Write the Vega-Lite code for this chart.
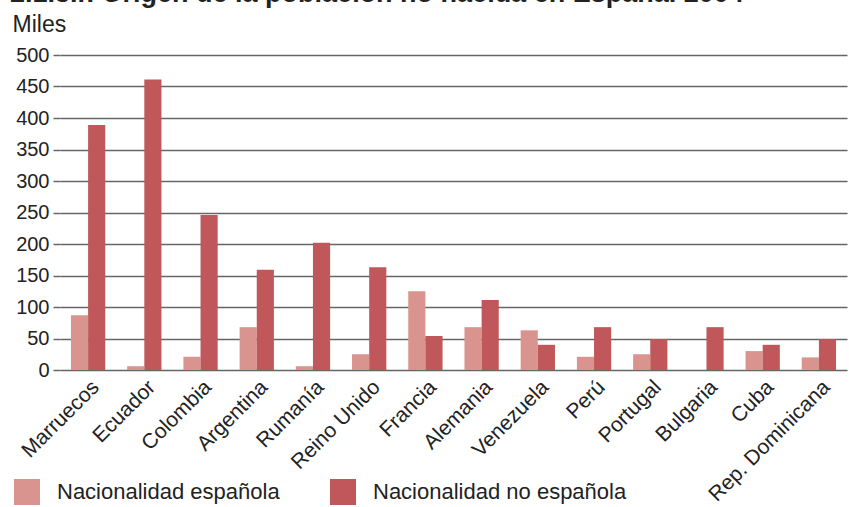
{
  "$schema": "https://vega.github.io/schema/vega-lite/v6.json",
  "width": 787,
  "height": 315,
  "autosize": "none",
  "padding": {"left": 60, "top": 55, "right": 2, "bottom": 137},
  "background": "white",
  "title": {
    "text": "2.1.3.r. Origen de la población no nacida en España. 2004",
    "anchor": "start",
    "frame": "group",
    "orient": "top",
    "baseline": "alphabetic",
    "offset": 0,
    "dy": 16,
    "dx": -50,
    "fontSize": 27,
    "fontWeight": "bold",
    "font": "Liberation Sans",
    "color": "#222"
  },
  "data": {
    "values": [
      {"pais": "Marruecos", "serie": "Nacionalidad española", "valor": 87},
      {"pais": "Marruecos", "serie": "Nacionalidad no española", "valor": 389},
      {"pais": "Ecuador", "serie": "Nacionalidad española", "valor": 6},
      {"pais": "Ecuador", "serie": "Nacionalidad no española", "valor": 461},
      {"pais": "Colombia", "serie": "Nacionalidad española", "valor": 21},
      {"pais": "Colombia", "serie": "Nacionalidad no española", "valor": 246},
      {"pais": "Argentina", "serie": "Nacionalidad española", "valor": 68},
      {"pais": "Argentina", "serie": "Nacionalidad no española", "valor": 159},
      {"pais": "Rumanía", "serie": "Nacionalidad española", "valor": 6},
      {"pais": "Rumanía", "serie": "Nacionalidad no española", "valor": 202},
      {"pais": "Reino Unido", "serie": "Nacionalidad española", "valor": 25},
      {"pais": "Reino Unido", "serie": "Nacionalidad no española", "valor": 163},
      {"pais": "Francia", "serie": "Nacionalidad española", "valor": 125},
      {"pais": "Francia", "serie": "Nacionalidad no española", "valor": 54},
      {"pais": "Alemania", "serie": "Nacionalidad española", "valor": 68},
      {"pais": "Alemania", "serie": "Nacionalidad no española", "valor": 111},
      {"pais": "Venezuela", "serie": "Nacionalidad española", "valor": 63},
      {"pais": "Venezuela", "serie": "Nacionalidad no española", "valor": 40},
      {"pais": "Perú", "serie": "Nacionalidad española", "valor": 21},
      {"pais": "Perú", "serie": "Nacionalidad no española", "valor": 68},
      {"pais": "Portugal", "serie": "Nacionalidad española", "valor": 25},
      {"pais": "Portugal", "serie": "Nacionalidad no española", "valor": 49},
      {"pais": "Bulgaria", "serie": "Nacionalidad española", "valor": 0},
      {"pais": "Bulgaria", "serie": "Nacionalidad no española", "valor": 68},
      {"pais": "Cuba", "serie": "Nacionalidad española", "valor": 30},
      {"pais": "Cuba", "serie": "Nacionalidad no española", "valor": 40},
      {"pais": "Rep. Dominicana", "serie": "Nacionalidad española", "valor": 20},
      {"pais": "Rep. Dominicana", "serie": "Nacionalidad no española", "valor": 49}
    ]
  },
  "mark": {"type": "bar"},
  "encoding": {
    "x": {
      "field": "pais",
      "type": "nominal",
      "sort": null,
      "scale": {"paddingInner": 0.39, "paddingOuter": 0.195},
      "axis": {
        "title": null,
        "labelAngle": -45,
        "labelFontSize": 21,
        "labelFont": "Liberation Sans",
        "labelColor": "#222",
        "domain": false,
        "ticks": false,
        "labelPadding": 6
      }
    },
    "xOffset": {
      "field": "serie",
      "type": "nominal",
      "sort": ["Nacionalidad española", "Nacionalidad no española"],
      "scale": {"paddingInner": 0, "paddingOuter": 0}
    },
    "y": {
      "field": "valor",
      "type": "quantitative",
      "scale": {"domain": [0, 500], "nice": false},
      "axis": {
        "title": "Miles",
        "titleAngle": 0,
        "titleAlign": "left",
        "titleBaseline": "alphabetic",
        "titleX": -48,
        "titleY": -24,
        "titleFontSize": 23,
        "titleFontWeight": "normal",
        "titleFont": "Liberation Sans",
        "titleColor": "#222",
        "values": [0, 50, 100, 150, 200, 250, 300, 350, 400, 450, 500],
        "labelFontSize": 20,
        "labelFont": "Liberation Sans",
        "labelColor": "#222",
        "labelPadding": 4,
        "domain": false,
        "tickSize": 7,
        "tickColor": "#666",
        "tickWidth": 1.5,
        "grid": true,
        "gridColor": "#666",
        "gridWidth": 1.5
      }
    },
    "color": {
      "field": "serie",
      "type": "nominal",
      "scale": {
        "domain": ["Nacionalidad española", "Nacionalidad no española"],
        "range": ["#d9948f", "#c0575a"]
      },
      "legend": {
        "title": null,
        "orient": "none",
        "direction": "horizontal",
        "legendX": -46,
        "legendY": 424,
        "symbolType": "square",
        "symbolSize": 676,
        "symbolStrokeWidth": 0,
        "symbolOpacity": 1,
        "labelFontSize": 22,
        "labelFont": "Liberation Sans",
        "labelColor": "#222",
        "labelOffset": 17,
        "columnPadding": 50,
        "labelLimit": 400
      }
    }
  },
  "config": {"view": {"stroke": null}}
}
